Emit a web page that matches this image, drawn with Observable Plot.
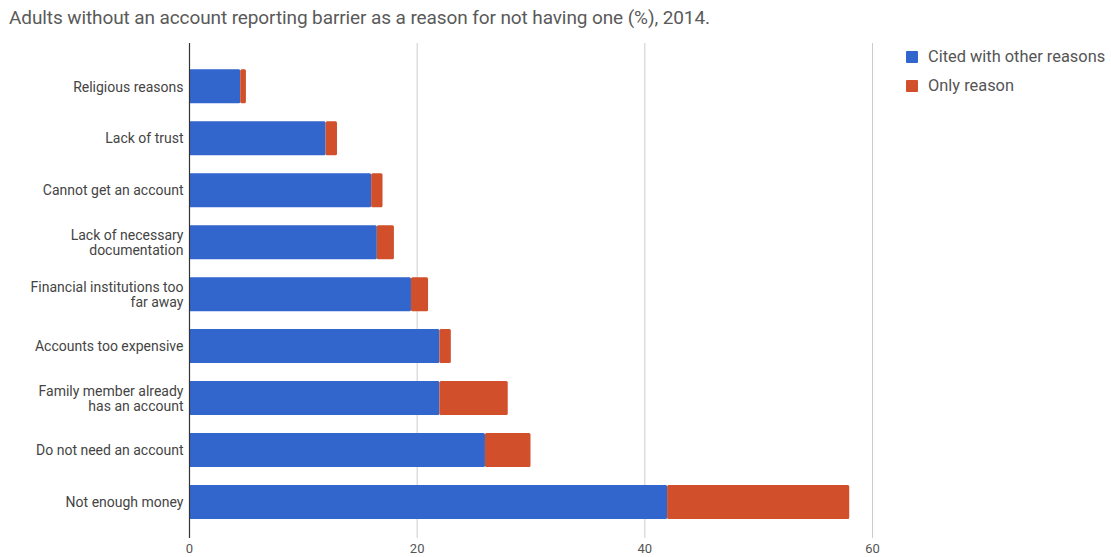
<!DOCTYPE html>
<html>
<head>
<meta charset="utf-8">
<script src="https://cdn.jsdelivr.net/npm/d3@7"></script>
<script src="https://cdn.jsdelivr.net/npm/@observablehq/plot@0.6"></script>
<style>
  html, body { margin: 0; padding: 0; background: #fff; }
  body { width: 1111px; height: 557px; position: relative; overflow: hidden; font-family: Roboto, "Liberation Sans", sans-serif; }
  #title { height: 38px; box-sizing: border-box; padding: 6px 0 0 9px; font-size: 19px; color: #5a5a5a; white-space: nowrap; letter-spacing: -0.1px; }
  #legend { position: absolute; left: 906px; top: 42px; font-size: 16.4px; color: #555; }
  .item { display: flex; align-items: center; height: 29px; }
  .sw { width: 12px; height: 12px; margin-right: 10px; border-radius: 1px; }
  svg { overflow: visible; display: block; }
</style>
</head>
<body>
<div id="title">Adults without an account reporting barrier as a reason for not having one (%), 2014.</div>
<div id="chart"></div>
<div id="legend"></div>
<script>
const categories = [
  "Religious reasons",
  "Lack of trust",
  "Cannot get an account",
  "Lack of necessary\ndocumentation",
  "Financial institutions too\nfar away",
  "Accounts too expensive",
  "Family member already\nhas an account",
  "Do not need an account",
  "Not enough money"
];
const seriesNames = ["Cited with other reasons", "Only reason"];
const citedWithOther = [4.5, 12, 16, 16.5, 19.5, 22, 22, 26, 42];
const onlyReason = [0.5, 1, 1, 1.5, 1.5, 1, 6, 4, 16];
const xTicks = [0, 20, 40, 60];
const colors = ["#3366cc", "#d14f2a"];

const rows = [];
categories.forEach((c, i) => {
  rows.push({category: c, series: seriesNames[0], value: citedWithOther[i]});
  rows.push({category: c, series: seriesNames[1], value: onlyReason[i]});
});

const svgTop = 38;
const chart = Plot.plot({
  width: 1111,
  height: 519,
  marginLeft: 189,
  marginRight: 239,
  marginTop: 5,
  marginBottom: 19,
  style: {fontFamily: "Roboto, 'Liberation Sans', sans-serif", background: "transparent"},
  x: {domain: [0, 60]},
  y: {domain: categories, range: [69.3 - svgTop, 519 - svgTop], paddingInner: 0.346, paddingOuter: 0, round: false},
  color: {domain: seriesNames, range: colors},
  marks: [
    Plot.gridX(xTicks, {stroke: "#cccccc", strokeOpacity: 1, strokeWidth: 1}),
    Plot.barX(rows, Plot.stackX({y: "category", x: "value", fill: "series", order: seriesNames, rx: 1.5})),
    Plot.ruleX([0], {stroke: "#333", strokeWidth: 1.2}),
    Plot.axisX(xTicks, {tickSize: 0, tickPadding: 5, fontSize: 13, fill: "#555", label: null}),
    Plot.axisY({tickSize: 0, tickPadding: 6, fontSize: 14, fill: "#444", lineHeight: 1.05, label: null})
  ]
});
document.getElementById("chart").appendChild(chart);

const legend = document.getElementById("legend");
seriesNames.forEach((s, i) => {
  const d = document.createElement("div");
  d.className = "item";
  const sw = document.createElement("div");
  sw.className = "sw";
  sw.style.background = colors[i];
  const t = document.createElement("span");
  t.textContent = s;
  d.appendChild(sw); d.appendChild(t);
  legend.appendChild(d);
});
</script>
</body>
</html>
